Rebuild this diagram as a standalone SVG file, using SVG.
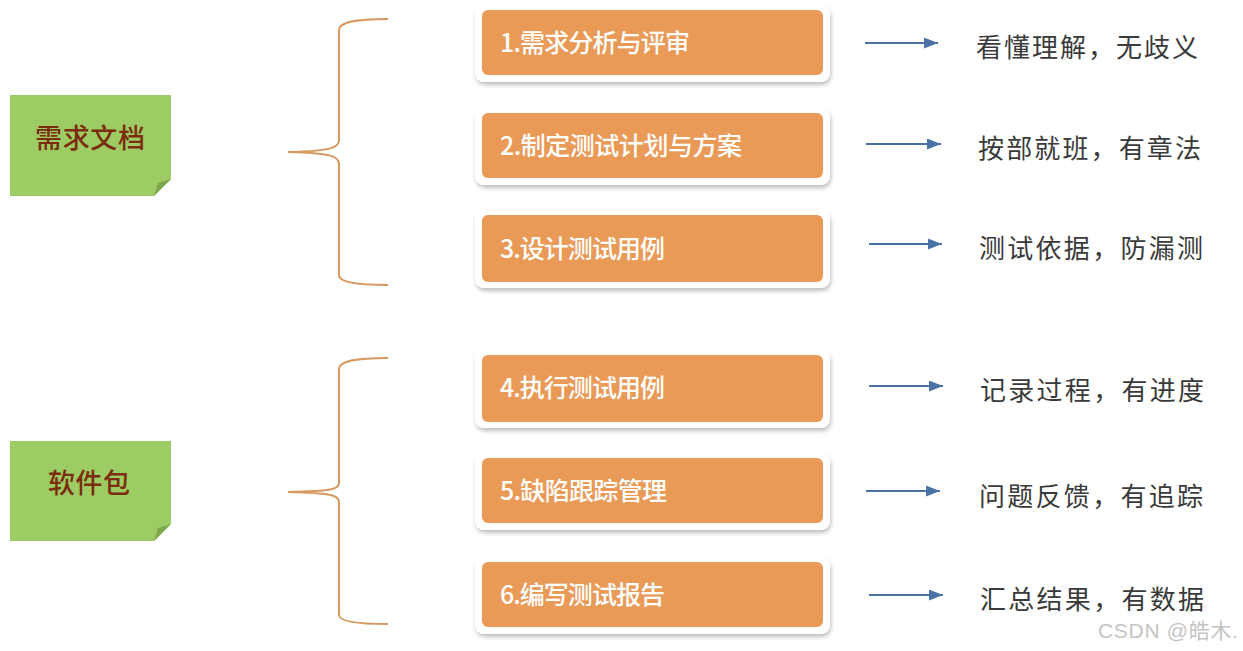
<svg xmlns="http://www.w3.org/2000/svg" width="1243" height="651" viewBox="0 0 1243 651">
<style>
.frame{fill:#ffffff;filter:url(#sh)}
.box{fill:#e99a57}
.bt{font-family:"Noto Sans CJK SC","Noto Sans",sans-serif;font-size:25px;fill:#ffffff;font-weight:500}
.rt{font-family:"Noto Sans CJK SC","Noto Sans",sans-serif;font-size:26px;fill:#3a3a3a}
.note{fill:#9ccc63}
.fold{fill:#7ea84c}
.nt{font-family:"Noto Sans CJK SC","Noto Sans",sans-serif;font-size:27px;fill:#7b2d0e;font-weight:500;text-anchor:middle}
.brace{fill:none;stroke:#d6995f;stroke-width:2}
.arr{stroke:#4b72a6;stroke-width:2;fill:none}
.wm{font-family:"Liberation Sans","Noto Sans CJK SC",sans-serif;font-size:21px;fill:#c4c4c4}
</style>
<defs>
<filter id="sh" x="-10%" y="-20%" width="120%" height="150%">
<feDropShadow dx="1" dy="3" stdDeviation="2" flood-color="#000" flood-opacity="0.25"/>
</filter>
<marker id="ah" markerWidth="15" markerHeight="11" refX="14" refY="5.5" orient="auto" markerUnits="userSpaceOnUse">
<path d="M0,0 L14,5.5 L0,11 Z" fill="#4b72a6"/>
</marker>
</defs>
<rect width="1243" height="651" fill="#ffffff"/>

<g id="note-req">
<path class="note" d="M10,95 H171 V179 L154,196 H10 Z"/>
<path class="fold" d="M171,179 L154,196 L158,183 Z"/>
<text class="nt" x="90" y="148" textLength="110">需求文档</text>
</g>
<g id="note-sw">
<path class="note" d="M10,441 H171 V524 L154,541 H10 Z"/>
<path class="fold" d="M171,524 L154,541 L158,528 Z"/>
<text class="nt" x="89" y="493" textLength="82">软件包</text>
</g>

<g id="braces">
<path class="brace" d="M388,19 C355,19 339,22 339,30 V140 C339,148 330,151 288,152 C330,153 339,156 339,164 V275 C339,282 355,285 388,285"/>
<path class="brace" d="M388,358 C355,358 339,361 339,369 V483 C339,490 330,491 288,492 C330,493 339,495 339,502 V615 C339,621 355,624 388,624"/>
</g>

<g id="step1">
<rect class="frame" x="475" y="5" width="355" height="77" rx="9"/>
<rect class="box" x="482" y="10" width="341" height="65" rx="6"/>
<text class="bt" x="500" y="52" textLength="190">1.需求分析与评审</text>
</g>
<g id="step2">
<rect class="frame" x="475" y="108" width="355" height="77" rx="9"/>
<rect class="box" x="482" y="113" width="341" height="65" rx="6"/>
<text class="bt" x="500" y="155" textLength="242">2.制定测试计划与方案</text>
</g>
<g id="step3">
<rect class="frame" x="475" y="210" width="355" height="78" rx="9"/>
<rect class="box" x="482" y="215" width="341" height="67" rx="6"/>
<text class="bt" x="500" y="258" textLength="165">3.设计测试用例</text>
</g>
<g id="step4">
<rect class="frame" x="475" y="350" width="355" height="78" rx="9"/>
<rect class="box" x="482" y="355" width="341" height="67" rx="6"/>
<text class="bt" x="500" y="397" textLength="165">4.执行测试用例</text>
</g>
<g id="step5">
<rect class="frame" x="475" y="453" width="355" height="77" rx="9"/>
<rect class="box" x="482" y="458" width="341" height="65" rx="6"/>
<text class="bt" x="500" y="500" textLength="167">5.缺陷跟踪管理</text>
</g>
<g id="step6">
<rect class="frame" x="475" y="557" width="355" height="77" rx="9"/>
<rect class="box" x="482" y="562" width="341" height="65" rx="6"/>
<text class="bt" x="500" y="604" textLength="165">6.编写测试报告</text>
</g>

<g id="connectors">
<line class="arr" x1="865" y1="43" x2="938" y2="43" marker-end="url(#ah)"/>
<line class="arr" x1="866" y1="144" x2="941" y2="144" marker-end="url(#ah)"/>
<line class="arr" x1="869" y1="244" x2="942" y2="244" marker-end="url(#ah)"/>
<line class="arr" x1="869" y1="386" x2="943" y2="386" marker-end="url(#ah)"/>
<line class="arr" x1="866" y1="491" x2="940" y2="491" marker-end="url(#ah)"/>
<line class="arr" x1="869" y1="595" x2="943" y2="595" marker-end="url(#ah)"/>
</g>

<g id="result1"><text class="rt" x="976" y="57" textLength="222">看懂理解，无歧义</text></g>
<g id="result2"><text class="rt" x="978" y="158" textLength="223">按部就班，有章法</text></g>
<g id="result3"><text class="rt" x="979" y="258" textLength="224">测试依据，防漏测</text></g>
<g id="result4"><text class="rt" x="980" y="400" textLength="224">记录过程，有进度</text></g>
<g id="result5"><text class="rt" x="979" y="506" textLength="224">问题反馈，有追踪</text></g>
<g id="result6"><text class="rt" x="980" y="609" textLength="224">汇总结果，有数据</text></g>

<text class="wm" x="1098" y="638" textLength="140">CSDN @皓木.</text>
</svg>
